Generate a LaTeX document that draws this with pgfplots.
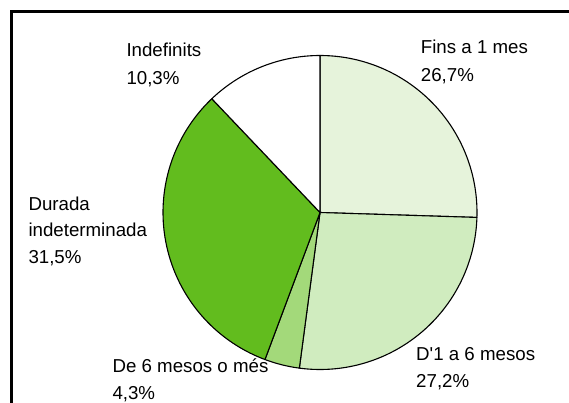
\documentclass[border=0pt]{standalone}
\usepackage{pgfplots}
\pgfplotsset{compat=1.18}
\usepackage{fontspec}
\setmainfont{Liberation Sans}
\definecolor{cA}{HTML}{E6F3DB}
\definecolor{cB}{HTML}{D0ECBF}
\definecolor{cC}{HTML}{A3D97A}
\definecolor{cD}{HTML}{62BC1E}
\definecolor{cE}{HTML}{FFFFFF}
\begin{document}
\begin{tikzpicture}[x=1pt,y=1pt,font=\fontsize{18.7}{22}\selectfont]
\useasboundingbox (0,0) rectangle (569,402);
\clip (0,0) rectangle (569,402);
\fill[white] (0,0) rectangle (569,402);
\draw[line width=3pt] (11,-20) -- (11,390.3) -- (600,390.3);
% slice shares (percent of the circle as drawn)
\def\vA{25.5}\def\vB{26.6}\def\vC{3.6}\def\vD{32.2}\def\vE{12.1}
\pgfmathsetmacro\aA{90}
\pgfmathsetmacro\aB{\aA-3.6*\vA}
\pgfmathsetmacro\aC{\aB-3.6*\vB}
\pgfmathsetmacro\aD{\aC-3.6*\vC}
\pgfmathsetmacro\aE{\aD-3.6*\vD}
\pgfmathsetmacro\aF{\aE-3.6*\vE}
\begin{axis}[x=1pt,y=1pt,hide axis,xmin=-170,xmax=170,ymin=-170,ymax=170,
  anchor=origin,at={(320,189.5)},clip=false]
\addplot[fill=cA,draw=black,line width=1.1pt,line join=round,domain=\aB:\aA,samples=80,variable=\t]({157*cos(\t)},{157*sin(\t)}) -- (0,0) -- cycle;
\addplot[fill=cB,draw=black,line width=1.1pt,line join=round,domain=\aC:\aB,samples=80,variable=\t]({157*cos(\t)},{157*sin(\t)}) -- (0,0) -- cycle;
\addplot[fill=cC,draw=black,line width=1.1pt,line join=round,domain=\aD:\aC,samples=20,variable=\t]({157*cos(\t)},{157*sin(\t)}) -- (0,0) -- cycle;
\addplot[fill=cD,draw=black,line width=1.1pt,line join=round,domain=\aE:\aD,samples=80,variable=\t]({157*cos(\t)},{157*sin(\t)}) -- (0,0) -- cycle;
\addplot[fill=cE,draw=black,line width=1.1pt,line join=round,domain=\aF:\aE,samples=40,variable=\t]({157*cos(\t)},{157*sin(\t)}) -- (0,0) -- cycle;
\end{axis}
\begin{scope}[every node/.style={anchor=base west,inner sep=0pt}]
\node at (126.3,345.3) {Indefinits};
\node at (126.3,317) {10,3\%};
\node at (420.7,348.7) {Fins a 1 mes};
\node at (420.7,320.3) {26,7\%};
\node at (28.3,191.3) {Durada};
\node at (28.3,166) {indeterminada};
\node at (28.3,138.7) {31,5\%};
\node at (112.3,29.3) {De 6 mesos o més};
\node at (112.3,3) {4,3\%};
\node at (416,42) {D\textquotesingle 1 a 6 mesos};
\node at (416,14.7) {27,2\%};
\end{scope}
\end{tikzpicture}
\end{document}
